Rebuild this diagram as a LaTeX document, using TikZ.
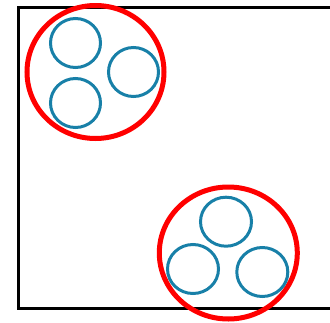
\documentclass[tikz,border=0pt]{standalone}
\definecolor{ringblue}{RGB}{24,128,168}
\begin{document}
\begin{tikzpicture}[x=1pt,y=-1pt,
    group/.style={red,line width=5pt},
    item/.style={ringblue,line width=3pt}]
    \useasboundingbox (0,0) rectangle (330,322);
    \begin{scope}
    \clip (0,0) rectangle (330,322);
    % Frame
    \draw[line width=3pt] (340,7) -- (18,7) -- (18,308) -- (340,308);

    % Upper cluster
    \draw[group] (95.5,72) ellipse (68.5 and 66.5);
    \foreach \x/\y in {75.5/43, 133.5/72, 75.5/103} {
        \draw[item] (\x,\y) ellipse (25 and 24.5);
    }

    % Lower cluster
    \draw[group] (228.3,253) ellipse (69 and 66);
    \foreach \x/\y in {226/221.7, 193/269, 262.3/272} {
        \draw[item] (\x,\y) ellipse (25.5 and 24.5);
    }
    \end{scope}
\end{tikzpicture}
\end{document}
